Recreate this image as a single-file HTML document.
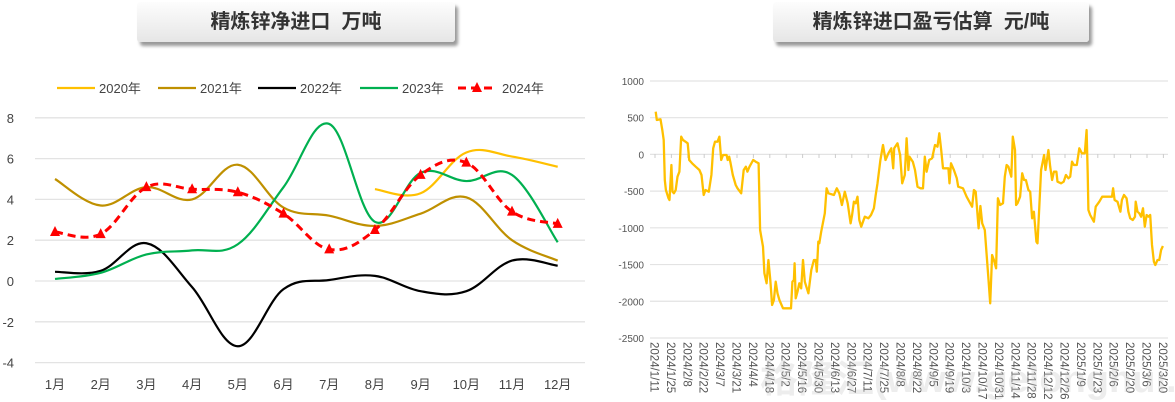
<!DOCTYPE html>
<html><head><meta charset="utf-8"><style>
body{margin:0;width:1175px;height:402px;background:#fff;overflow:hidden;font-family:"Liberation Sans","Noto Sans CJK SC",sans-serif;}
.tb{position:absolute;height:40px;background:linear-gradient(#fdfdfd,#e6e6e6);border-radius:3px;box-shadow:3px 4px 3px #9a9a9a;text-align:center;line-height:40px;font-size:20px;font-weight:bold;color:#333;}
svg{position:absolute;left:0;top:0}
</style></head><body>
<div class="tb" style="left:137px;top:2px;width:318px;">精炼锌净进口&nbsp;&nbsp;万吨</div>
<div class="tb" style="left:773px;top:2px;width:316px;">精炼锌进口盈亏估算&nbsp;&nbsp;元/吨</div>
<svg id="s" width="1175" height="402" font-family="Liberation Sans, Noto Sans CJK SC, sans-serif"></svg>
<script>
var s=document.getElementById('s'),h='';
function Y(v){return 281-v*20.4}
function X(i){return 55+i*45.7}
for(var v=-4;v<=8;v+=2){h+='<line x1="35" x2="585" y1="'+Y(v)+'" y2="'+Y(v)+'" stroke="#e3e3e3" stroke-width="1.3"/>';
h+='<text x="14" y="'+(Y(v)+5)+'" font-size="13" fill="#444" text-anchor="end">'+v+'</text>';}
for(var i=0;i<12;i++)h+='<text x="'+X(i)+'" y="389" font-size="13" fill="#444" text-anchor="middle">'+(i+1)+'月</text>';
function smooth(p){var d='M'+p[0][0]+','+p[0][1];for(var i=0;i<p.length-1;i++){var p0=p[i-1]||p[i],p1=p[i],p2=p[i+1],p3=p[i+2]||p2;var t=0.18;
d+=' C'+(p1[0]+(p2[0]-p0[0])*t)+','+(p1[1]+(p2[1]-p0[1])*t)+' '+(p2[0]-(p3[0]-p1[0])*t)+','+(p2[1]-(p3[1]-p1[1])*t)+' '+p2[0]+','+p2[1];}return d}
function ser(vals,start){var p=[];for(var i=0;i<vals.length;i++)p.push([X(i+start),Y(vals[i])]);return p}
var S=[
[[4.5,4.3,6.3,6.1,5.6],7,'#ffc000'],
[[5.0,3.7,4.6,4.0,5.7,3.6,3.2,2.7,3.3,4.1,2.0,1.0],0,'#bf9000'],
[[0.45,0.5,1.85,-0.3,-3.2,-0.4,0.05,0.25,-0.5,-0.5,1.0,0.75],0,'#000'],
[[0.1,0.4,1.3,1.5,1.8,4.6,7.7,2.9,5.3,4.9,5.2,1.9],0,'#00b050']];
S.forEach(function(a){h+='<path d="'+smooth(ser(a[0],a[1]))+'" fill="none" stroke="'+a[2]+'" stroke-width="2.2"/>'});
var v24=[2.4,2.3,4.6,4.5,4.35,3.3,1.55,2.5,5.2,5.8,3.4,2.8],p24=ser(v24,0);
h+='<path d="'+smooth(p24)+'" fill="none" stroke="#f00" stroke-width="3" stroke-dasharray="8,5"/>';
p24.forEach(function(q){h+='<polygon points="'+q[0]+','+(q[1]-6)+' '+(q[0]-5)+','+(q[1]+4)+' '+(q[0]+5)+','+(q[1]+4)+'" fill="#f00"/>'});
var lg=[['2020年','#ffc000',57],['2021年','#bf9000',158],['2022年','#000',258],['2023年','#00b050',360]];
lg.forEach(function(l){h+='<line x1="'+l[2]+'" x2="'+(l[2]+38)+'" y1="88" y2="88" stroke="'+l[1]+'" stroke-width="2.2"/><text x="'+(l[2]+42)+'" y="93" font-size="13" fill="#444">'+l[0]+'</text>'});
h+='<line x1="458" x2="497" y1="88" y2="88" stroke="#f00" stroke-width="3" stroke-dasharray="8,5"/><polygon points="477,82 472,92 482,92" fill="#f00"/><text x="502" y="93" font-size="13" fill="#444">2024年</text>';
function RY(v){return 154.4-v*0.07343}
for(var v=-2500;v<=1000;v+=500){h+='<line x1="650" x2="1168" y1="'+RY(v)+'" y2="'+RY(v)+'" stroke="#e3e3e3" stroke-width="1.2"/>';
h+='<text x="644" y="'+(RY(v)+4)+'" font-size="10" fill="#555" text-anchor="end">'+v+'</text>';}
var dl=['2024/1/11','2024/1/25','2024/2/8','2024/2/22','2024/3/7','2024/3/21','2024/4/4','2024/4/18','2024/5/2','2024/5/16','2024/5/30','2024/6/13','2024/6/27','2024/7/11','2024/7/25','2024/8/8','2024/8/22','2024/9/5','2024/9/19','2024/10/3','2024/10/17','2024/10/31','2024/11/14','2024/11/28','2024/12/12','2024/12/26','2025/1/9','2025/1/23','2025/2/6','2025/2/20','2025/3/6','2025/3/20'];
dl.forEach(function(d,i){var x=655+i*16.4;h+='<line x1="'+x+'" x2="'+x+'" y1="154" y2="158" stroke="#ccc"/><text transform="translate('+(x-4.5)+',342) rotate(90)" font-size="11.5" fill="#555">'+d+'</text>'});
var R=[150,155,153,180,163,178,168,210,172,240,175,360,178,390,185,415,188,420,193,315,196,395,200,400,205,390,210,350,215,335,220,230,225,240,232,245,238,250,242,300,250,310,260,320,270,330,276,345,282,405,287,390,296,395,303,345,308,265,313,245,320,245,325,230,330,300,335,285,345,285,348,300,352,290,356,310,362,345,370,375,375,385,385,400,392,330,398,320,402,335,408,320,418,300,425,305,433,310,437,510,445,560,449,640,455,670,460,600,465,660,470,735,475,720,480,665,485,700,490,720,500,745,522,745,526,665,530,660,532,610,535,715,540,695,545,670,550,685,555,600,560,665,570,700,578,630,585,600,590,600,593,635,597,545,600,550,605,515,615,460,620,385,625,400,640,405,648,385,655,400,662,435,670,395,678,430,686,490,690,465,695,425,700,430,705,410,710,480,715,500,725,470,735,475,742,465,750,445,755,405,760,370,768,300,775,255,782,300,790,280,798,265,803,325,806,265,815,250,822,285,828,370,835,345,840,235,845,330,848,290,857,305,863,330,870,380,878,385,885,385,890,290,895,335,902,300,910,295,918,255,925,260,930,220,935,270,940,325,955,325,958,370,962,310,970,330,978,355,982,380,995,385,1005,410,1020,440,1025,390,1030,395,1038,505,1043,438,1048,490,1055,510,1065,655,1070,730,1075,585,1080,600,1086,625,1091,415,1097,435,1105,430,1110,350,1115,315,1120,320,1128,350,1132,230,1138,270,1141,435,1145,430,1152,410,1158,340,1163,360,1168,360,1175,390,1180,395,1185,475,1190,455,1197,545,1200,550,1205,440,1210,330,1218,285,1222,330,1230,270,1235,320,1240,360,1245,335,1252,335,1255,365,1265,370,1272,365,1278,345,1285,355,1290,350,1295,305,1300,315,1308,315,1315,265,1322,280,1330,280,1335,210,1338,340,1340,450,1345,465,1355,485,1360,440,1370,425,1378,410,1390,410,1405,410,1408,385,1412,420,1420,425,1428,455,1432,420,1438,405,1445,415,1450,455,1455,475,1462,480,1468,470,1470,425,1475,455,1480,460,1485,470,1490,445,1495,500,1500,465,1505,470,1510,465,1515,555,1520,605,1524,615,1530,600,1535,600,1540,570,1545,558];
var pts=[];for(var i=0;i<R.length;i+=2)pts.push((655+(R[i]-148)*0.3636).toFixed(1)+','+(60+R[i+1]/3).toFixed(1));
h+='<polyline points="'+pts.join(' ')+'" fill="none" stroke="#ffc000" stroke-width="2.3" stroke-linejoin="round"/>';
h+='<text x="760" y="392" font-size="38" font-weight="bold" fill="#ccc" opacity="0.35">格隆汇(www.gelonghui.com)</text>';
s.innerHTML=h;
</script>
</body></html>
